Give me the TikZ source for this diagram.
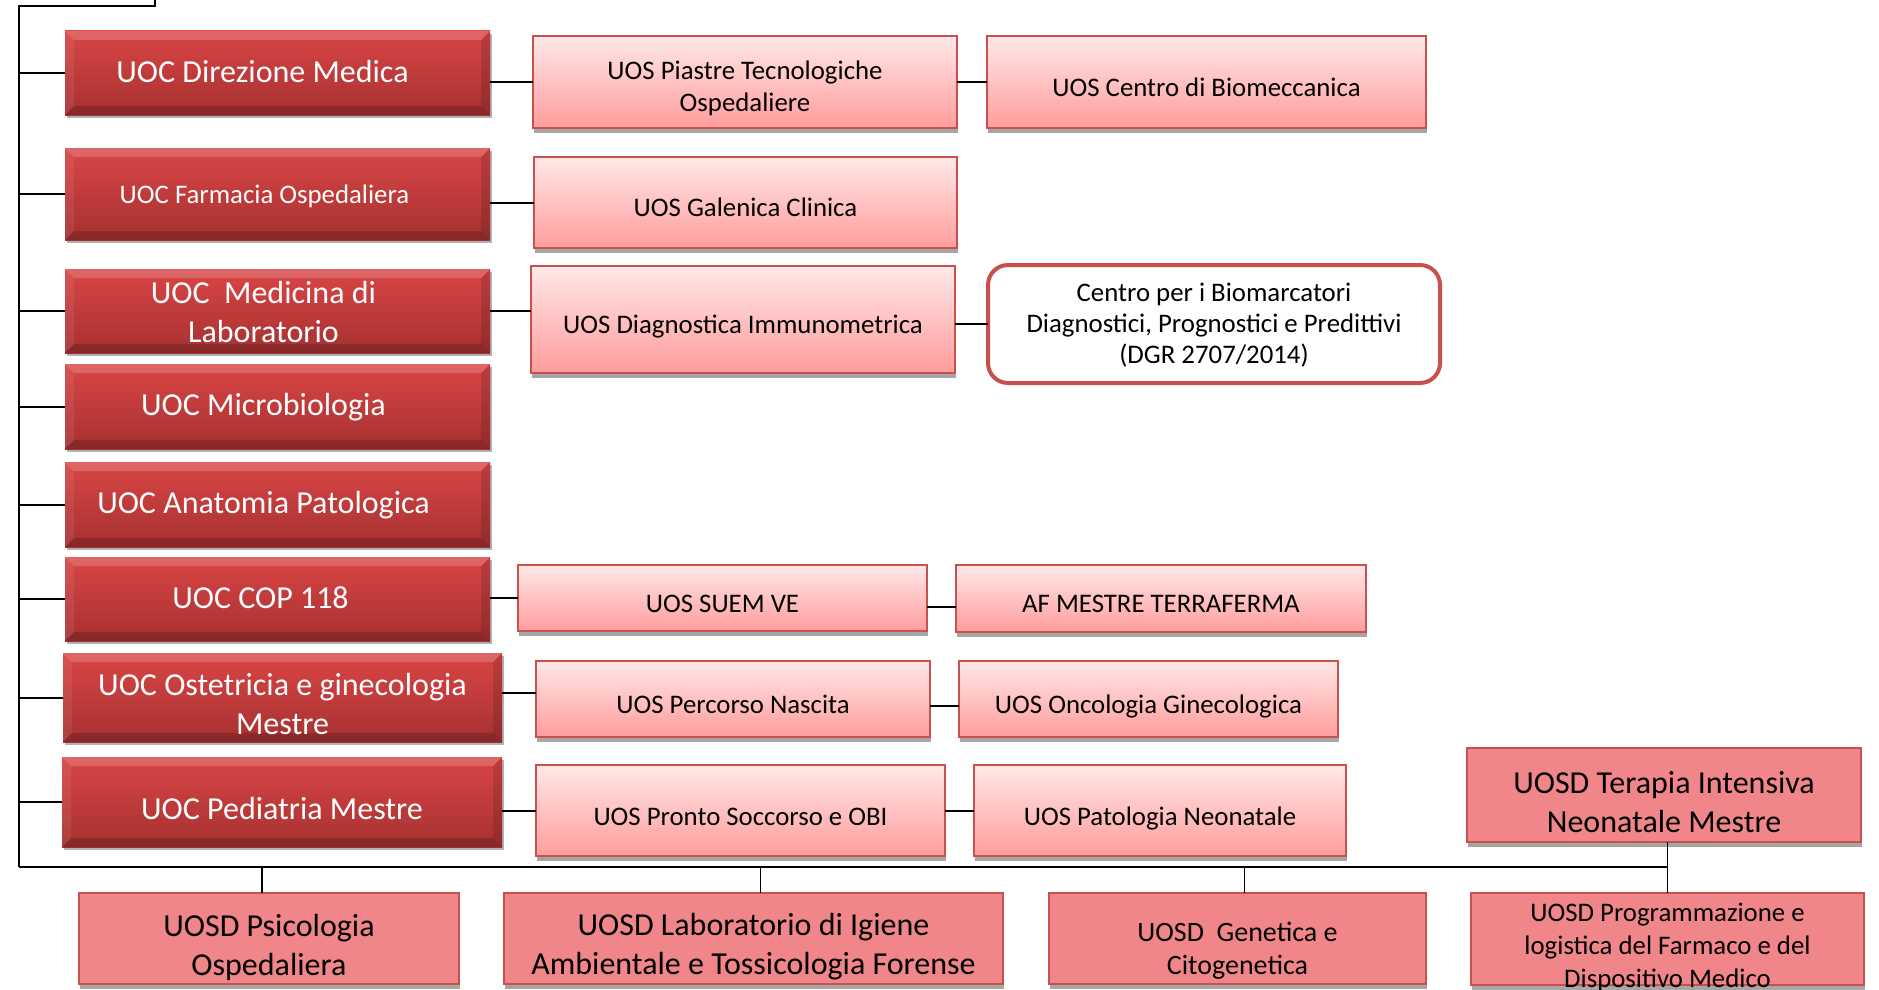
\documentclass[tikz,border=0pt]{standalone}
\usepackage{fontspec}
\setmainfont{Carlito}
\usetikzlibrary{shadows,calc}
\definecolor{uocA}{HTML}{DA4545}
\definecolor{uocB}{HTML}{A63131}
\definecolor{uosA}{HTML}{FFE8E8}
\definecolor{uosB}{HTML}{FF9C9C}
\definecolor{bord}{HTML}{C8504D}
\definecolor{uosdfill}{HTML}{F0868A}
\definecolor{shd}{HTML}{A6A6A6}
\tikzset{
  every node/.style={inner sep=0pt, outer sep=0pt},
  conn/.style={draw=black, line width=2pt},
  thinconn/.style={draw=black, line width=1.6pt},
  uoc/.style={rectangle, draw=none, top color=uocA, bottom color=uocB,
    drop shadow={shadow xshift=2pt, shadow yshift=-3pt, opacity=.3, fill=black},
    path picture={
      \path (path picture bounding box.north west) coordinate (pNW)
            (path picture bounding box.north east) coordinate (pNE)
            (path picture bounding box.south west) coordinate (pSW)
            (path picture bounding box.south east) coordinate (pSE);
      \fill[white,opacity=.18] (pNW) -- (pNE) -- ([shift={(-9pt,-9pt)}]pNE) -- ([shift={(9pt,-9pt)}]pNW) -- cycle;
      \fill[black,opacity=.18] (pSW) -- (pSE) -- ([shift={(-9pt,9pt)}]pSE) -- ([shift={(9pt,9pt)}]pSW) -- cycle;
      \fill[white,opacity=.07] (pNW) -- ([shift={(9pt,-9pt)}]pNW) -- ([shift={(9pt,9pt)}]pSW) -- (pSW) -- cycle;
      \fill[black,opacity=.12] (pNE) -- ([shift={(-9pt,-9pt)}]pNE) -- ([shift={(-9pt,9pt)}]pSE) -- (pSE) -- cycle;
    }},
  uos/.style={rectangle, draw=bord, line width=1.5pt, top color=uosA, bottom color=uosB,
    drop shadow={shadow xshift=1pt, shadow yshift=-5pt, opacity=1, fill=shd}},
  uosdbox/.style={rectangle, draw=bord, line width=1.5pt, fill=uosdfill,
    drop shadow={shadow xshift=1pt, shadow yshift=-5pt, opacity=1, fill=shd}},
  roundbox/.style={rectangle, rounded corners=20pt, fill=white, draw=bord, line width=4pt},
  wtxt/.style={text=white, align=center, font=\fontsize{32}{39}\selectfont},
  btxt/.style={text=black, align=center, font=\fontsize{26.8}{32.2}\selectfont},
  bigtxt/.style={text=black, align=center, font=\fontsize{32}{39}\selectfont},
  oneline/.style={text height=.75em, text depth=.1em, yshift=-6pt},
}
\newcommand\bx[6]{\node[#1, minimum width={(#5)-(#3)}, minimum height={(#6)-(#4)}] (#2) at ({((#3)+(#5))/2},{((#4)+(#6))/2}) {};}
\begin{document}
\begin{tikzpicture}[x=1pt,y=-1pt]
\useasboundingbox[fill=white] (0,0) rectangle (1879,990);

% ---- UOC boxes
\bx{uoc}{dir}{65}{31}{490}{115}
\bx{uoc}{farm}{65}{148}{490}{240}
\bx{uoc}{med}{65}{269}{490}{353}
\bx{uoc}{micro}{65}{364}{490}{449}
\bx{uoc}{anat}{65}{462}{490}{547}
\bx{uoc}{cop}{65}{557}{490}{641}
\bx{uoc}{ost}{63}{653}{502}{742}
\bx{uoc}{ped}{62}{757}{502}{847}

% ---- UOS boxes
\bx{uos}{piast}{533}{36}{957}{128}
\bx{uos}{biom}{987}{36}{1426}{128}
\bx{uos}{galen}{534}{157}{957}{248}
\bx{uos}{diag}{531}{266}{955}{373}
\bx{roundbox}{centro}{988}{265}{1440}{383}
\bx{uos}{suem}{518}{565}{927}{631}
\bx{uos}{af}{956}{565}{1366}{632}
\bx{uos}{perc}{536}{661}{930}{737}
\bx{uos}{onco}{959}{661}{1338}{737}
\bx{uos}{pronto}{536}{765}{945}{856}
\bx{uos}{patol}{974}{765}{1346}{856}

% ---- UOSD boxes
\bx{uosdbox}{ter}{1467}{748}{1861}{842}
\bx{uosdbox}{psico}{79}{893}{459}{984}
\bx{uosdbox}{lab}{504}{893}{1003}{984}
\bx{uosdbox}{genet}{1049}{893}{1426}{984}
\bx{uosdbox}{progr}{1471}{893}{1864}{985}

% ---- texts
\node[wtxt,oneline] (dirT) at ([xshift=-15pt]dir.center) {UOC Direzione Medica};
\node[wtxt,oneline,font=\fontsize{26.8}{32}\selectfont] (farmT) at ([xshift=-13pt]farm.center) {UOC Farmacia Ospedaliera};
\node[wtxt] (medT) at ([xshift=-14pt,yshift=-1pt]med.center) {UOC\ \ Medicina di\\Laboratorio};
\node[wtxt,oneline] (microT) at ([xshift=-14pt]micro.center) {UOC Microbiologia};
\node[wtxt,oneline] (anatT) at ([xshift=-14pt]anat.center) {UOC Anatomia Patologica};
\node[wtxt,oneline] (copT) at ([xshift=-17pt]cop.center) {UOC COP 118};
\node[wtxt] (ostT) at ([yshift=-6pt]ost.center) {UOC Ostetricia e ginecologia\\Mestre};
\node[wtxt,oneline] (pedT) at ([yshift=-8pt]ped.center) {UOC Pediatria Mestre};

\node[btxt] (piastT) at ([yshift=-6pt]piast.center) {UOS Piastre Tecnologiche\\Ospedaliere};
\node[btxt,oneline] (biomT) at ([yshift=-5pt]biom.center) {UOS Centro di Biomeccanica};
\node[btxt,oneline] (galenT) at ([yshift=-5pt]galen.center) {UOS Galenica Clinica};
\node[btxt,oneline] (diagT) at ([yshift=-5pt]diag.center) {UOS Diagnostica Immunometrica};
\node[btxt,font=\fontsize{26.8}{31}\selectfont] (centroT) at ([yshift=-1pt]centro.center) {Centro per i Biomarcatori\\Diagnostici, Prognostici e Predittivi\\(DGR 2707/2014)};
\node[btxt,oneline] (suemT) at ([yshift=-5pt]suem.center) {UOS SUEM VE};
\node[btxt,oneline] (afT) at ([yshift=-5pt]af.center) {AF MESTRE TERRAFERMA};
\node[btxt,oneline] (percT) at ([yshift=-5pt]perc.center) {UOS Percorso Nascita};
\node[btxt,oneline] (oncoT) at ([yshift=-5pt]onco.center) {UOS Oncologia Ginecologica};
\node[btxt,oneline] (prontoT) at ([yshift=-6pt]pronto.center) {UOS Pronto Soccorso e OBI};
\node[btxt,oneline] (patolT) at ([yshift=-6pt]patol.center) {UOS Patologia Neonatale};

\node[bigtxt] (terT) at ([yshift=-7pt]ter.center) {UOSD Terapia Intensiva\\Neonatale Mestre};
\node[bigtxt] (psicoT) at ([yshift=-9pt]psico.center) {UOSD Psicologia\\Ospedaliera};
\node[bigtxt] (labT) at ([yshift=-8pt]lab.center) {UOSD Laboratorio di Igiene\\Ambientale e Tossicologia Forense};
\node[btxt,font=\fontsize{28}{33}\selectfont] (genetT) at ([yshift=-12pt]genet.center) {UOSD\ \ Genetica e\\Citogenetica};
\node[btxt,font=\fontsize{26.8}{33}\selectfont] (progrT) at ([yshift=-8pt]progr.center) {UOSD Programmazione e\\logistica del Farmaco e del\\Dispositivo Medico};

% ---- connectors
\coordinate (topc) at (155,0);
\coordinate (tl) at (19,6);
\coordinate (bl) at (19,867);
\draw[conn] (topc) -- (topc |- tl) -- (tl) -- (bl);
\foreach \n in {dir,farm,med,micro,anat,cop,ost,ped}{
  \draw[conn] (\n.west -| bl) -- (\n.west);
}
\draw[conn] (dir.east |- piast.west) -- (piast.west);
\draw[conn] (piast.east |- biom.west) -- (biom.west);
\draw[conn] (farm.east |- galen.west) -- (galen.west);
\draw[conn] (med.east) -- (med.east -| diag.west);
\draw[conn] (diag.east |- centro.west) -- (centro.west);
\draw[conn] (cop.east |- suem.west) -- (suem.west);
\draw[conn] ([yshift=-9pt]suem.east) -- ([yshift=-9pt]suem.east -| af.west);
\draw[conn] ([yshift=5pt]ost.east) -- ([yshift=5pt]ost.east -| perc.west);
\draw[conn] ([yshift=-7pt]perc.east) -- ([yshift=-7pt]perc.east -| onco.west);
\draw[conn] (ped.east |- pronto.west) -- (pronto.west);
\draw[conn] (pronto.east |- patol.west) -- (patol.west);

\draw[thinconn] (bl) -- (progr.north |- bl);
\draw[thinconn] (progr.north |- ter.south) -- (progr.north);
\draw[thinconn] ([xshift=-7pt]psico.north |- bl) -- ([xshift=-7pt]psico.north);
\draw[thinconn] ([xshift=7pt]lab.north |- bl) -- ([xshift=7pt]lab.north);
\draw[thinconn] ([xshift=7pt]genet.north |- bl) -- ([xshift=7pt]genet.north);
\end{tikzpicture}
\end{document}
